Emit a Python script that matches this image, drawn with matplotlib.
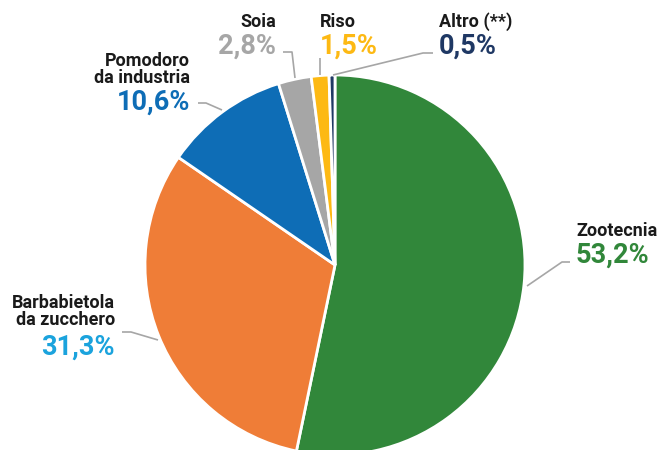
import matplotlib.pyplot as plt

# Data
categories = ["Zootecnia", "Barbabietola\nda zucchero", "Pomodoro\nda industria",
              "Soia", "Riso", "Altro (**)"]
shares = [53.2, 31.3, 10.6, 2.8, 1.5, 0.5]
wedge_colors = ["#31873A", "#EF7D37", "#0E6DB6", "#A6A6A6", "#FDB913", "#1F3864"]
pct_colors = ["#31873A", "#1BA3DD", "#0E6DB6", "#A6A6A6", "#FDB913", "#1F3864"]

plt.rcParams['font.family'] = ['Roboto', 'DejaVu Sans']

W, H = 659, 450
fig = plt.figure(figsize=(W / 100, H / 100), dpi=100)
ax = fig.add_axes([0, 0, 1, 1])

def y(p):
    # pixel row (from top) -> data y
    return H - p

ax.pie(shares, colors=wedge_colors, startangle=90, counterclock=False,
       center=(335, y(265)), radius=190, frame=True,
       wedgeprops=dict(edgecolor='white', linewidth=2))
ax.set_xlim(0, W)
ax.set_ylim(0, H)
ax.set_aspect('equal')
ax.axis('off')

# label layout: (x, name baseline, pct baseline, align, leader points)
layout = [
    (576, 236, 263, 'left', [(527, 286), (562, 262), (570, 262)]),
    (115, 325, 355, 'right', [(122, 332), (131, 332), (158, 340)]),
    (190, 83, 110, 'right', [(198, 103), (206, 103), (222, 110)]),
    (276, 27, 54, 'right', [(283, 52), (292, 52), (295, 78)]),
    (320, 27, 54, 'left', [(320, 58), (320, 75)]),
    (439, 27, 54, 'left', [(333, 75), (423, 53), (433, 53)]),
]

for name, val, col, (x, nb, pb, ha, pts) in zip(categories, shares, pct_colors, layout):
    ax.text(x, y(nb), name, ha=ha, va='baseline', fontsize=13,
            fontweight='semibold', color='#1a1a1a', linespacing=0.92,
            multialignment=ha)
    ax.text(x, y(pb), f"{val:.1f}".replace('.', ',') + '%', ha=ha, va='baseline',
            fontsize=19.5, fontweight='bold', color=col)
    ax.plot([p[0] for p in pts], [y(p[1]) for p in pts], color='#A6A6A6', lw=1.2,
            solid_capstyle='butt')

fig.savefig('out.png', dpi=100)
